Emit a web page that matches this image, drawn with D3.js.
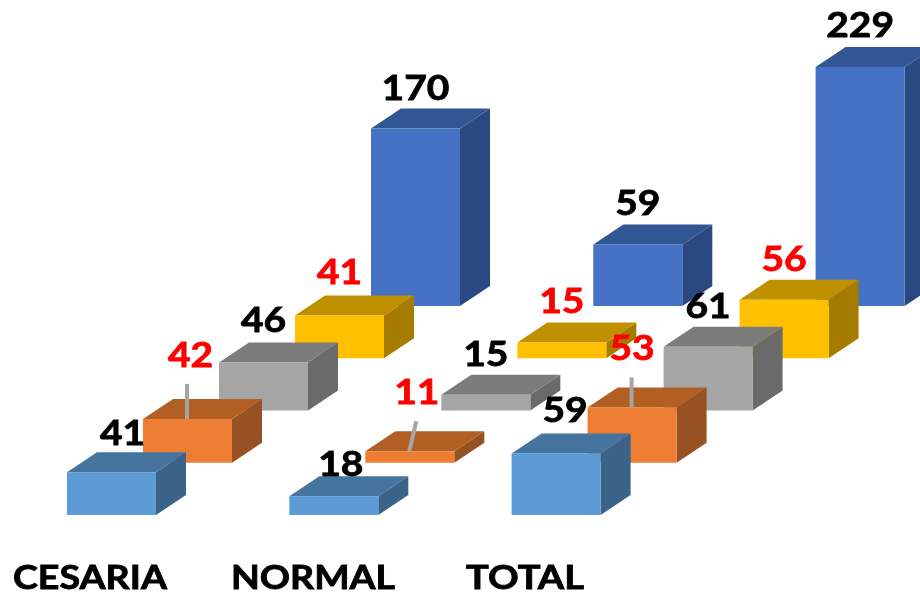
<!DOCTYPE html>
<html><head><meta charset="utf-8">
<script src="https://cdn.jsdelivr.net/npm/d3@7/dist/d3.min.js"></script>
<style>html,body{margin:0;padding:0;background:#fff}svg{display:block}</style>
</head><body><div id="chart"></div>
<script>
const categories = ["CESARIA", "NORMAL", "TOTAL"];
const seriesOrder = ["s1", "s2", "s3", "s4", "s5"];
const s1 = [41, 18, 59];
const s2 = [42, 11, 53];
const s3 = [46, 15, 61];
const s4 = [41, 15, 56];
const s5 = [170, 59, 229];
const seriesValues = [s1, s2, s3, s4, s5];
const labelColors = ["#000000", "#ff0000", "#000000", "#ff0000", "#000000"];
const faceColors = ["#5b9bd5", "#ed7d31", "#a5a5a5", "#ffc000", "#4472c4"];
const topColors = ["#44749f", "#b15e24", "#7c7c7c", "#bf9000", "#335593"];
const sideColors = ["#3a648a", "#985120", "#6b6b6b", "#a57c00", "#2c4a80"];

// label placement, per series then per category
const labelDx = [[11, 7, 9], [3, 7, 0], [0, 0, 0], [0, 0, 0], [0, 0, 0]];
const labelLift = [[27, 20, 31], [52, 47, 47], [30, 29, 29], [31, 30, 29], [29, 29, 30]];
const leaderLen = [35, 30, 30];
const leaderTilt = [0, 7, 0];
const catCenters = [90, 313, 525];
const catWidths = [154, 164, 118];

const W = 920, H = 596, barW = 89, depthX = 30, depthY = 20, digitW = 22.6;
const svg = d3.select("#chart").append("svg").attr("width", W).attr("height", H);
const defs = svg.append("defs");
defs.append("filter").attr("id", "soft").attr("x", "-5%").attr("y", "-5%").attr("width", "110%").attr("height", "110%")
  .append("feGaussianBlur").attr("stdDeviation", 0.7);
const root = svg.append("g").attr("filter", "url(#soft)");

const xCat = d3.scalePoint().domain(categories).range([67, 511.6]);
const xSer = d3.scalePoint().domain(seriesOrder).range([0, 304]);
const baseY = d3.scalePoint().domain(seriesOrder).range([515, 306]);
const h = d3.scaleLinear().domain([0, 229]).range([0, 239]);
const FONT = "Lato, 'Open Sans', sans-serif";

const rows = seriesOrder.map((s, i) => ({s, i})).reverse();
const line = d3.line();
rows.forEach(({s, i}) => {
  const g = root.append("g");
  categories.forEach((c, k) => {
    const v = seriesValues[i][k];
    const x0 = xCat(c) + xSer(s), x1 = x0 + barW, y0 = baseY(s), y1 = y0 - h(v);
    g.append("path").attr("fill", sideColors[i]).attr("d", line([[x1, y0], [x1 + depthX, y0 - depthY], [x1 + depthX, y1 - depthY], [x1, y1]]) + "Z");
    g.append("path").attr("fill", topColors[i]).attr("d", line([[x0, y1], [x0 + depthX, y1 - depthY], [x1 + depthX, y1 - depthY], [x1, y1]]) + "Z");
    g.append("rect").attr("x", x0).attr("y", y1).attr("width", barW).attr("height", y0 - y1).attr("fill", faceColors[i]);
  });
});

// leader lines on the orange series
categories.forEach((c, k) => {
  const i = 1, x0 = xCat(c) + xSer(seriesOrder[i]), yTop = baseY(seriesOrder[i]) - h(seriesValues[i][k]);
  const mid = x0 + barW / 2;
  root.append("line").attr("x1", mid - 0.5).attr("y1", yTop)
    .attr("x2", mid - 0.5 + leaderTilt[k]).attr("y2", yTop - leaderLen[k])
    .attr("stroke", "#a5a5a5").attr("stroke-width", 4);
});

// value labels
seriesOrder.forEach((s, i) => {
  categories.forEach((c, k) => {
    const v = seriesValues[i][k];
    const x0 = xCat(c) + xSer(s), yTop = baseY(s) - h(v);
    root.append("text").attr("x", x0 + barW / 2 + labelDx[i][k]).attr("y", yTop - labelLift[i][k])
      .attr("text-anchor", "middle").attr("font-family", FONT).attr("font-weight", 700)
      .attr("font-size", 35).attr("textLength", String(v).length * digitW).attr("lengthAdjust", "spacingAndGlyphs")
      .attr("fill", labelColors[i]).attr("stroke", labelColors[i]).attr("stroke-width", 0.8).text(v);
  });
});

// category labels
categories.forEach((c, k) => {
  root.append("text").attr("x", catCenters[k]).attr("y", 589).attr("text-anchor", "middle")
    .attr("font-family", FONT).attr("font-weight", 700).attr("font-size", 32)
    .attr("textLength", catWidths[k]).attr("lengthAdjust", "spacingAndGlyphs")
    .attr("fill", "#000").attr("stroke", "#000").attr("stroke-width", 0.8).text(c);
});
</script></body></html>
